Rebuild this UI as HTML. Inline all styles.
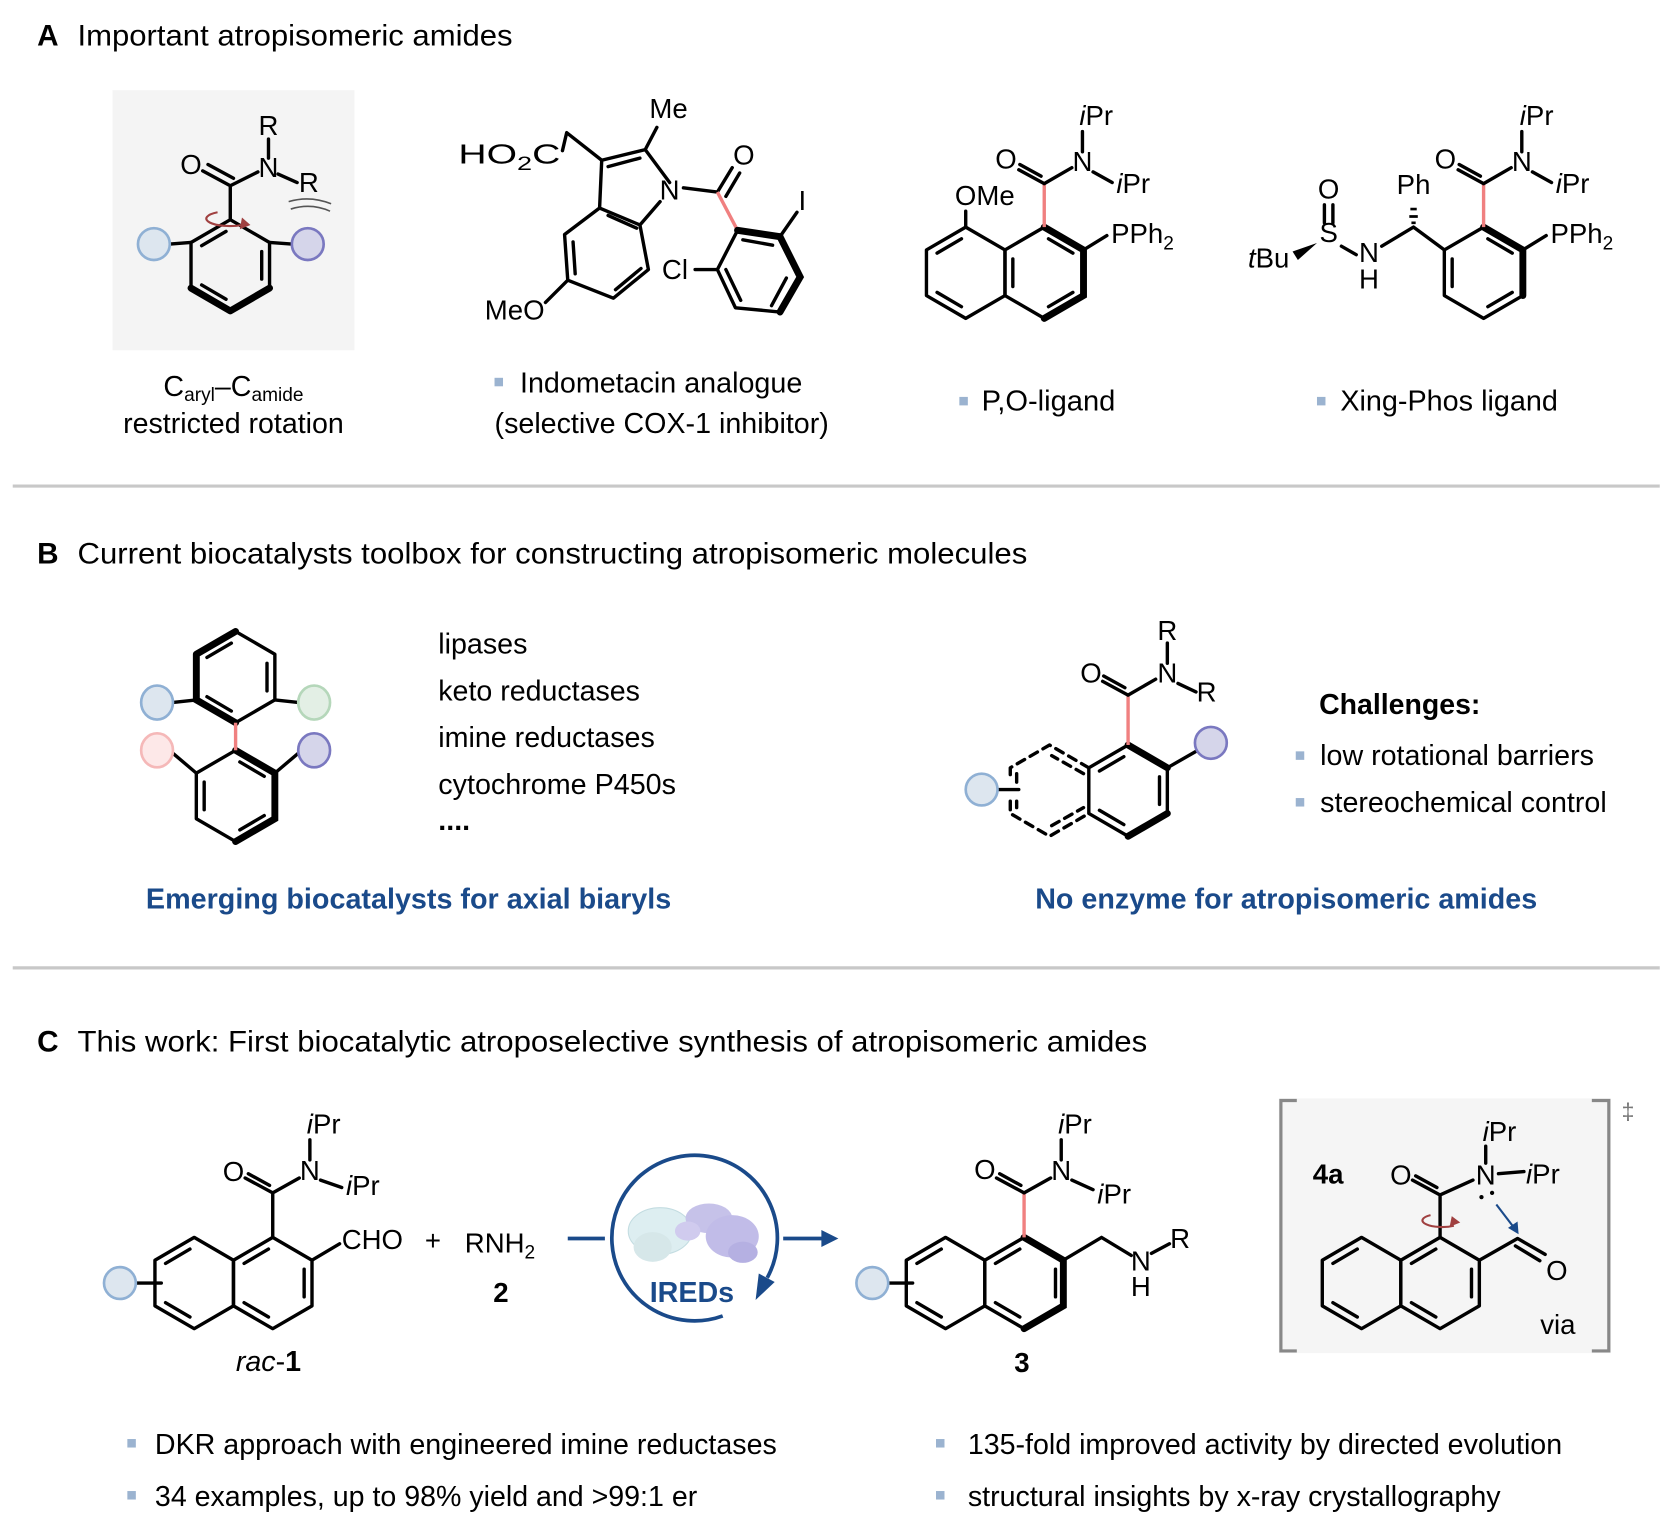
<!DOCTYPE html>
<html><head><meta charset="utf-8"><style>
html,body{margin:0;padding:0;background:#fff;}
svg{display:block;}
text{font-family:"Liberation Sans",Arial,sans-serif;fill:#000;}
.a{font-size:26px;text-anchor:middle;}
.s{font-size:26px;}
.t{font-size:28px;}
.b{font-size:27px;}
.bl{font-size:27px;font-weight:bold;fill:#1a4a8a;text-anchor:middle;}
.bd{stroke:#000;stroke-width:3.2;fill:none;stroke-linecap:round;stroke-linejoin:round;}
.bo{stroke:#000;stroke-width:6.5;fill:none;stroke-linecap:round;}
.pk{stroke:#f08080;stroke-width:3.2;fill:none;}
</style></head><body>
<svg width="1664" height="1525" viewBox="0 0 1568 1437" preserveAspectRatio="none" xmlns="http://www.w3.org/2000/svg">
<defs>
<polygon id="hx" points="0,-43 37,-21.5 37,21.5 0,43 -37,21.5 -37,-21.5" class="bd"/>
<path id="i01" d="M4,-32 L27,-18.5" class="bd"/>
<path id="i12" d="M29.6,-13 L29.6,13" class="bd"/>
<path id="i23" d="M27,18.5 L4,32" class="bd"/>
<path id="i34" d="M-4,32 L-27,18.5" class="bd"/>
<path id="i45" d="M-29.6,13 L-29.6,-13" class="bd"/>
<path id="i50" d="M-27,-18.5 L-4,-32" class="bd"/>
</defs>

<!-- ===== Section A ===== -->
<text x="35" y="43" class="t" font-weight="bold">A</text>
<text x="73" y="43" class="t" textLength="410" lengthAdjust="spacingAndGlyphs">Important atropisomeric amides</text>

<rect x="106" y="85" width="228" height="245" fill="#f4f4f4"/>
<g transform="translate(217,250)"><use href="#hx"/><use href="#i12"/><use href="#i34"/><use href="#i50"/></g>
<path d="M217,293 L254,271.5 M217,293 L180,271.5" class="bo"/>
<path d="M217,207 L217,175 M217,175 L191,161 M220,168 L196,155 M217,175 L243,162 M253,149 L253,131 M262,164 L280,172 M180,228.5 L160,230 M254,228.5 L275,230" class="bd"/>
<circle cx="145" cy="230" r="15" fill="#dde6ef" stroke="#8fb0d4" stroke-width="2.5"/>
<circle cx="290" cy="230" r="15" fill="#d5d5ea" stroke="#7a78c0" stroke-width="2.5"/>
<path d="M272,190 Q292,184 312,192 M274,197 Q293,191 311,199" stroke="#555" stroke-width="1.5" fill="none"/>
<path d="M228,212 A22,7 0 1 1 205,200" stroke="#a04040" stroke-width="2" fill="none"/>
<polygon points="228,205 236,212 226,216" fill="#a04040"/>
<text x="180" y="164" class="a">O</text>
<text x="253" y="167" class="a">N</text>
<text x="253" y="127" class="a">R</text>
<text x="291" y="181" class="a">R</text>
<text x="220" y="373" class="b" text-anchor="middle">C<tspan font-size="18" dy="5">aryl</tspan><tspan dy="-5">–C</tspan><tspan font-size="18" dy="5">amide</tspan></text>
<text x="220" y="408" class="b" text-anchor="middle" textLength="208" lengthAdjust="spacingAndGlyphs">restricted rotation</text>

<!-- indometacin -->
<path d="M530,142 L534,125 L567,151 L608,141 L631,172 M608,141 L619,120 M567,151 L565,196 L603,212 L622,190 M565,196 L532,221 L535,264 L578,281 L611,254 L603,212 M535,264 L514,285 M644,177 L676,181 L690,158 M684,185 L697,163 M655,254 L676,254 L693,290 L735,294 M676,254 L695,217 M735,223 L751,200" class="bd"/>
<path d="M573,157 L603,149 M573,203 L600,215 M540,228 L542,258 M580,273 L604,253 M684,254 L698,283 M700,226 L728,231 M741,262 L727,288" class="bd"/>
<path d="M735,223 L754,261 L735,294" class="bo"/>
<path d="M676,181 L695,217" class="pk"/>
<path d="M695,217 L735,223" class="bo" stroke-width="5"/>
<text x="432" y="154" class="s" textLength="96" lengthAdjust="spacingAndGlyphs">HO<tspan font-size="18" dy="6">2</tspan><tspan dy="-6">C</tspan></text>
<text x="630" y="111" class="a">Me</text>
<text x="631" y="188" class="a">N</text>
<text x="701" y="155" class="a">O</text>
<text x="756" y="198" class="a">I</text>
<text x="636" y="263" class="a">Cl</text>
<text x="485" y="301" class="a">MeO</text>
<rect x="466" y="356" width="8" height="8" fill="#9bb3d0"/>
<text x="490" y="370" class="b" textLength="266" lengthAdjust="spacingAndGlyphs">Indometacin analogue</text>
<text x="466" y="408" class="b" textLength="315" lengthAdjust="spacingAndGlyphs">(selective COX-1 inhibitor)</text>

<!-- P,O ligand -->
<g transform="translate(984,257)"><use href="#hx"/><use href="#i01"/><use href="#i23"/><use href="#i45"/></g>
<g transform="translate(910,257)"><use href="#hx"/><use href="#i50"/><use href="#i34"/></g>
<path d="M1021,235.5 L1021,278.5 L984,300 M984,214 L1021,235.5" class="bo"/>
<path d="M984,214 L984,173" class="pk"/>
<path d="M984,173 L960,160 M981,166 L961,155 M984,173 L1010,158 M1020,143 L1020,124 M1030,162 L1048,172 M910,214 L910,199 M1021,235.5 L1043,222" class="bd"/>
<text x="948" y="159" class="a">O</text>
<text x="1020" y="161" class="a">N</text>
<text x="1033" y="118" class="a"><tspan font-style="italic">i</tspan>Pr</text>
<text x="1052" y="182" class="s"><tspan font-style="italic">i</tspan>Pr</text>
<text x="928" y="193" class="a">OMe</text>
<text x="1047" y="229" class="s">PPh<tspan font-size="18" dy="6">2</tspan></text>
<rect x="904" y="374" width="8" height="8" fill="#9bb3d0"/>
<text x="925" y="387" class="b" textLength="126" lengthAdjust="spacingAndGlyphs">P,O-ligand</text>

<!-- Xing-Phos -->
<g transform="translate(1398,257)"><use href="#hx"/><use href="#i01"/><use href="#i23"/><use href="#i45"/></g>
<path d="M1435,235.5 L1435,278.5 M1398,214 L1435,235.5" class="bo"/>
<path d="M1398,214 L1398,173" class="pk"/>
<path d="M1398,173 L1374,160 M1395,166 L1375,155 M1398,173 L1424,158 M1434,143 L1434,124 M1444,162 L1462,172 M1435,235.5 L1457,222 M1361,235.5 L1332,214 M1332,214 L1302,232 M1278,240 L1264,232 M1248,193 L1248,210 M1256,193 L1256,210" class="bd"/>
<path d="M1329,197 L1335,197 M1328,204 L1336,204 M1330,210 L1334,210" stroke="#000" stroke-width="2.5"/>
<polygon points="1241,229 1218,237 1223,245" fill="#000"/>
<text x="1362" y="159" class="a">O</text>
<text x="1434" y="161" class="a">N</text>
<text x="1448" y="118" class="a"><tspan font-style="italic">i</tspan>Pr</text>
<text x="1466" y="182" class="s"><tspan font-style="italic">i</tspan>Pr</text>
<text x="1461" y="229" class="s">PPh<tspan font-size="18" dy="6">2</tspan></text>
<text x="1332" y="183" class="a">Ph</text>
<text x="1290" y="247" class="a">N</text>
<text x="1290" y="272" class="a">H</text>
<text x="1252" y="228" class="a">S</text>
<text x="1252" y="187" class="a">O</text>
<text x="1176" y="252" class="s"><tspan font-style="italic">t</tspan>Bu</text>
<rect x="1241" y="374" width="8" height="8" fill="#9bb3d0"/>
<text x="1263" y="387" class="b" textLength="205" lengthAdjust="spacingAndGlyphs">Xing-Phos ligand</text>

<line x1="12" y1="458" x2="1564" y2="458" stroke="#c8c8c8" stroke-width="3"/>

<!-- ===== Section B ===== -->
<text x="35" y="531" class="t" font-weight="bold">B</text>
<text x="73" y="531" class="t" textLength="895" lengthAdjust="spacingAndGlyphs">Current biocatalysts toolbox for constructing atropisomeric molecules</text>

<g transform="translate(222,638)"><use href="#hx"/><use href="#i50"/><use href="#i12"/><use href="#i34"/></g>
<g transform="translate(222,750)"><use href="#hx"/><use href="#i01"/><use href="#i23"/><use href="#i45"/></g>
<path d="M185,616.5 L222,595 M185,616.5 L185,659.5 L222,681" class="bo"/>
<path d="M222,707 L259,728.5 L259,771.5 L222,793" class="bo"/>
<path d="M222,681 L222,707" class="pk"/>
<path d="M185,659.5 L162,662 M259,659.5 L282,662 M185,728.5 L162,709 M259,728.5 L282,709" class="bd"/>
<ellipse cx="148" cy="662" rx="15" ry="16" fill="#dde6ef" stroke="#8fb0d4" stroke-width="2.5"/>
<ellipse cx="296" cy="662" rx="15" ry="16" fill="#e3efe5" stroke="#b5d7ba" stroke-width="2.5"/>
<ellipse cx="148" cy="707" rx="15" ry="16" fill="#fde8e8" stroke="#f5b8b8" stroke-width="2.5"/>
<ellipse cx="296" cy="707" rx="15" ry="16" fill="#d5d5ea" stroke="#7a78c0" stroke-width="2.5"/>
<text x="413" y="616" class="b" textLength="84" lengthAdjust="spacingAndGlyphs">lipases</text>
<text x="413" y="660" class="b" textLength="190" lengthAdjust="spacingAndGlyphs">keto reductases</text>
<text x="413" y="704" class="b" textLength="204" lengthAdjust="spacingAndGlyphs">imine reductases</text>
<text x="413" y="748" class="b" textLength="224" lengthAdjust="spacingAndGlyphs">cytochrome P450s</text>
<text x="413" y="782" class="b" font-weight="bold">....</text>

<g transform="translate(1063,745)"><use href="#hx"/><use href="#i50"/><use href="#i12"/><use href="#i34"/></g>
<path d="M1063,702 L1100,723.5 M1100,766.5 L1063,788" class="bo"/>
<path d="M1026,723.5 L989,702 L952,723.5 L952,735 M952,755 L952,766.5 L989,788 L1026,766.5 M1021,729 L991,712 M958,729 L958,737 M958,755 L958,761 M991,778 L1021,761" class="bd" stroke-dasharray="8,6"/>
<path d="M1063,702 L1063,655" class="pk"/>
<path d="M1063,655 L1039,642 M1060,648 L1040,637 M1063,655 L1089,640 M1100,625 L1100,606 M1110,644 L1127,652 M1100,723.5 L1127,708 M940,744 L960,744" class="bd"/>
<circle cx="925" cy="744" r="15" fill="#dde6ef" stroke="#8fb0d4" stroke-width="2.5"/>
<circle cx="1141" cy="700" r="15" fill="#d5d5ea" stroke="#7a78c0" stroke-width="2.5"/>
<text x="1028" y="643" class="a">O</text>
<text x="1100" y="643" class="a">N</text>
<text x="1100" y="603" class="a">R</text>
<text x="1137" y="661" class="a">R</text>
<text x="1243" y="673" class="b" font-weight="bold" textLength="152" lengthAdjust="spacingAndGlyphs">Challenges:</text>
<rect x="1221" y="708" width="8" height="8" fill="#9bb3d0"/>
<text x="1244" y="721" class="b" textLength="258" lengthAdjust="spacingAndGlyphs">low rotational barriers</text>
<rect x="1221" y="752" width="8" height="8" fill="#9bb3d0"/>
<text x="1244" y="765" class="b" textLength="270" lengthAdjust="spacingAndGlyphs">stereochemical control</text>

<text x="385" y="856" class="bl" textLength="495" lengthAdjust="spacingAndGlyphs">Emerging biocatalysts for axial biaryls</text>
<text x="1212" y="856" class="bl" textLength="473" lengthAdjust="spacingAndGlyphs">No enzyme for atropisomeric amides</text>

<line x1="12" y1="912" x2="1564" y2="912" stroke="#c8c8c8" stroke-width="3"/>

<!-- ===== Section C ===== -->
<text x="35" y="991" class="t" font-weight="bold">C</text>
<text x="73" y="991" class="t" textLength="1008" lengthAdjust="spacingAndGlyphs">This work: First biocatalytic atroposelective synthesis of atropisomeric amides</text>

<!-- rac-1 -->
<g transform="translate(257,1209)"><use href="#hx"/><use href="#i50"/><use href="#i12"/><use href="#i34"/></g>
<g transform="translate(183,1209)"><use href="#hx"/><use href="#i50"/><use href="#i34"/></g>
<path d="M257,1166 L257,1124 M257,1124 L231,1110 M254,1117 L234,1106 M257,1124 L282,1110 M292,1093 L292,1074 M302,1112 L322,1119 M294,1187.5 L320,1172 M128,1209 L152,1209" class="bd"/>
<circle cx="113" cy="1209" r="15" fill="#dde6ef" stroke="#8fb0d4" stroke-width="2.5"/>
<text x="220" y="1113" class="a">O</text>
<text x="292" y="1112" class="a">N</text>
<text x="305" y="1068" class="a"><tspan font-style="italic">i</tspan>Pr</text>
<text x="326" y="1126" class="s"><tspan font-style="italic">i</tspan>Pr</text>
<text x="322" y="1177" class="s">CHO</text>
<text x="408" y="1178" class="a">+</text>
<text x="438" y="1180" class="s">RNH<tspan font-size="18" dy="6">2</tspan></text>
<text x="472" y="1227" class="a" font-weight="bold">2</text>
<text x="253" y="1292" class="b" text-anchor="middle"><tspan font-style="italic">rac</tspan>-<tspan font-weight="bold">1</tspan></text>

<!-- enzyme cycle -->
<line x1="535" y1="1167" x2="570" y2="1167" stroke="#1a4a8a" stroke-width="3.5"/>
<g opacity="0.85">
<ellipse cx="622" cy="1160" rx="30" ry="22" fill="#d8ecef" stroke="#b9d7dc"/>
<ellipse cx="615" cy="1175" rx="18" ry="14" fill="#cfe3e6"/>
<ellipse cx="668" cy="1148" rx="22" ry="14" fill="#bdb8e6"/>
<ellipse cx="690" cy="1165" rx="25" ry="20" fill="#b7b1e4"/>
<ellipse cx="648" cy="1160" rx="12" ry="9" fill="#c8c2ec"/>
<ellipse cx="700" cy="1180" rx="14" ry="10" fill="#a9a3de"/>
</g>
<path d="M681,1240 A78,78 0 1 1 723,1204" stroke="#1a4a8a" stroke-width="3.5" fill="none"/>
<polygon points="712,1225 715,1200 730,1208" fill="#1a4a8a"/>
<text x="652" y="1227" class="bl" font-size="26">IREDs</text>
<line x1="738" y1="1167" x2="776" y2="1167" stroke="#1a4a8a" stroke-width="3.5"/>
<polygon points="774,1159 790,1167 774,1175" fill="#1a4a8a"/>

<!-- product 3 -->
<g transform="translate(965,1209)"><use href="#hx"/><use href="#i50"/><use href="#i12"/><use href="#i34"/></g>
<g transform="translate(891,1209)"><use href="#hx"/><use href="#i50"/><use href="#i34"/></g>
<path d="M965,1166 L1002,1187.5 L1002,1230.5 L965,1252" class="bo"/>
<path d="M965,1166 L965,1124" class="pk"/>
<path d="M965,1124 L939,1110 M962,1117 L942,1106 M965,1124 L990,1110 M1000,1093 L1000,1074 M1010,1112 L1030,1121 M1002,1187.5 L1038,1166 L1066,1183 M1085,1181 L1102,1172 M837,1209 L860,1209" class="bd"/>
<circle cx="822" cy="1209" r="15" fill="#dde6ef" stroke="#8fb0d4" stroke-width="2.5"/>
<text x="928" y="1111" class="a">O</text>
<text x="1000" y="1112" class="a">N</text>
<text x="1013" y="1068" class="a"><tspan font-style="italic">i</tspan>Pr</text>
<text x="1034" y="1134" class="s"><tspan font-style="italic">i</tspan>Pr</text>
<text x="1075" y="1197" class="a">N</text>
<text x="1075" y="1221" class="a">H</text>
<text x="1112" y="1176" class="a">R</text>
<text x="963" y="1293" class="a" font-weight="bold">3</text>

<!-- 4a box -->
<rect x="1205" y="1035" width="313" height="240" fill="#f5f5f5"/>
<path d="M1222,1037 L1207,1037 L1207,1273 L1222,1273 M1500,1037 L1516,1037 L1516,1273 L1500,1273" stroke="#888" stroke-width="3" fill="none"/>
<text x="1528" y="1055" font-size="22" style="fill:#777">‡</text>
<text x="1237" y="1115" class="s" font-weight="bold">4a</text>
<g transform="translate(1357,1209)"><use href="#hx"/><use href="#i50"/><use href="#i12"/><use href="#i34"/></g>
<g transform="translate(1283,1209)"><use href="#hx"/><use href="#i50"/><use href="#i34"/></g>
<path d="M1357,1166 L1357,1126 M1357,1126 L1331,1112 M1354,1119 L1334,1108 M1357,1126 L1388,1112 M1400,1096 L1400,1080 M1412,1106 L1436,1104 M1394,1187.5 L1430,1167 L1456,1182 M1428,1174 L1451,1188" class="bd"/>
<circle cx="1396" cy="1128" r="2" fill="#000"/><circle cx="1406" cy="1124" r="2" fill="#000"/>
<path d="M1410,1135 L1426,1156" stroke="#1a4a8a" stroke-width="2"/>
<polygon points="1421,1157 1431,1163 1430,1151" fill="#1a4a8a"/>
<path d="M1370,1155 A18,6 0 1 1 1348,1145" stroke="#a04040" stroke-width="2" fill="none"/>
<polygon points="1368,1146 1376,1152 1366,1156" fill="#a04040"/>
<text x="1320" y="1116" class="a">O</text>
<text x="1400" y="1116" class="a">N</text>
<text x="1413" y="1075" class="a"><tspan font-style="italic">i</tspan>Pr</text>
<text x="1438" y="1115" class="s"><tspan font-style="italic">i</tspan>Pr</text>
<text x="1467" y="1206" class="a">O</text>
<text x="1468" y="1257" class="a">via</text>

<!-- bullets -->
<rect x="120" y="1356" width="8" height="8" fill="#9bb3d0"/>
<text x="146" y="1370" class="b" textLength="586" lengthAdjust="spacingAndGlyphs">DKR approach with engineered imine reductases</text>
<rect x="120" y="1405" width="8" height="8" fill="#9bb3d0"/>
<text x="146" y="1419" class="b" textLength="511" lengthAdjust="spacingAndGlyphs">34 examples, up to 98% yield and &gt;99:1 er</text>
<rect x="882" y="1356" width="8" height="8" fill="#9bb3d0"/>
<text x="912" y="1370" class="b" textLength="560" lengthAdjust="spacingAndGlyphs">135-fold improved activity by directed evolution</text>
<rect x="882" y="1405" width="8" height="8" fill="#9bb3d0"/>
<text x="912" y="1419" class="b" textLength="502" lengthAdjust="spacingAndGlyphs">structural insights by x-ray crystallography</text>
</svg>
</body></html>
